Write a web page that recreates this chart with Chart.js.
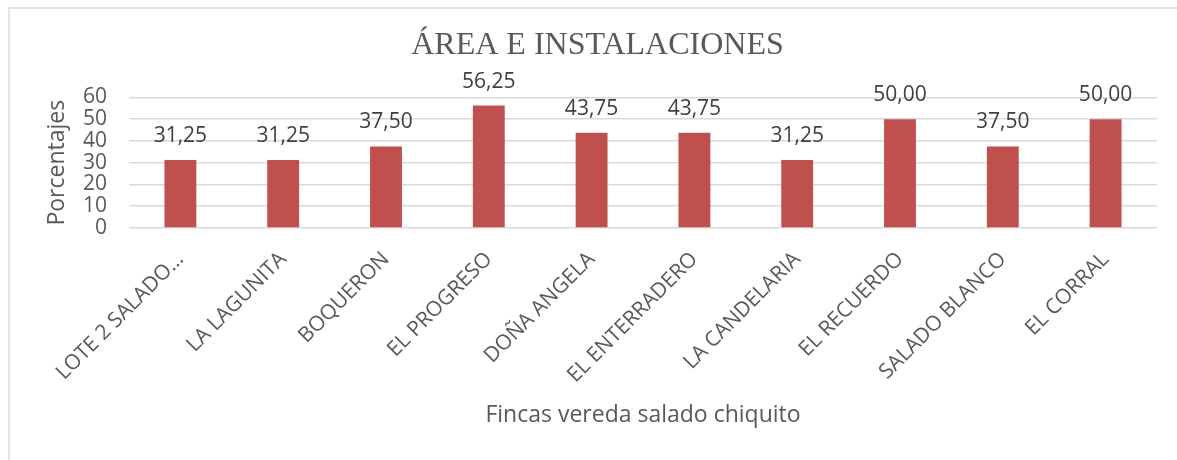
<!DOCTYPE html>
<html>
<head>
<meta charset="utf-8">
<script src="https://cdn.jsdelivr.net/npm/chart.js@4.4.0/dist/chart.umd.min.js"></script>
<style>
  html, body { margin: 0; padding: 0; background: #ffffff; }
  #frame { position: absolute; left: 8px; top: 7px; right: 0; bottom: 0;
           border-top: 2px solid #e3e3e3; border-left: 2px solid #e3e3e3; }
  #c { position: absolute; left: 0; top: 0; }
</style>
</head>
<body>
<div id="frame"></div>
<canvas id="c" width="1177" height="460"></canvas>
<script>
const chartTitle = 'ÁREA E INSTALACIONES';
const xAxisTitle = 'Fincas vereda salado chiquito';
const yAxisTitle = 'Porcentajes';
const categories = ['LOTE 2 SALADO…', 'LA LAGUNITA', 'BOQUERON', 'EL PROGRESO', 'DOÑA ANGELA',
                    'EL ENTERRADERO', 'LA CANDELARIA', 'EL RECUERDO', 'SALADO BLANCO', 'EL CORRAL'];
const values = [31.25, 31.25, 37.50, 56.25, 43.75, 43.75, 31.25, 50.00, 37.50, 50.00];
const yTicks = [0, 10, 20, 30, 40, 50, 60];

const textColor = '#595959';
const sansFont = "'Open Sans', sans-serif";

const dataLabels = {
  id: 'dataLabels',
  afterDatasetsDraw(chart) {
    const ctx = chart.ctx;
    ctx.save();
    ctx.font = "21px " + sansFont;
    ctx.fillStyle = '#404040';
    ctx.textAlign = 'center';
    ctx.textBaseline = 'alphabetic';
    chart.getDatasetMeta(0).data.forEach((bar, i) => {
      const v = chart.data.datasets[0].data[i];
      ctx.fillText(v.toFixed(2).replace('.', ','), bar.x, bar.y - 18);
    });
    ctx.restore();
  }
};

new Chart(document.getElementById('c'), {
  type: 'bar',
  data: {
    labels: categories,
    datasets: [{
      data: values,
      backgroundColor: '#C0504D',
      borderWidth: 0,
      categoryPercentage: 1,
      barPercentage: 0.31
    }]
  },
  options: {
    responsive: false,
    animation: false,
    layout: { padding: { left: 38, right: 20, top: 0, bottom: 0 } },
    plugins: {
      legend: { display: false },
      tooltip: { enabled: false },
      title: {
        display: true,
        text: chartTitle,
        color: textColor,
        font: { family: "'Liberation Serif', serif", size: 32, weight: 'normal' },
        padding: { top: 26, bottom: 33 }
      }
    },
    scales: {
      x: {
        grid: { display: false, drawTicks: false },
        border: { display: false },
        ticks: {
          color: textColor,
          font: { family: sansFont, size: 21 },
          minRotation: 45,
          maxRotation: 45,
          autoSkip: false,
          padding: 19
        },
        title: {
          display: true,
          text: xAxisTitle,
          color: textColor,
          font: { family: sansFont, size: 23 },
          padding: { top: 0, bottom: 31 }
        },
        afterFit(scale) { scale.height = 232; }
      },
      y: {
        min: 0,
        max: 60,
        afterBuildTicks(scale) { scale.ticks = yTicks.map(v => ({ value: v })); },
        grid: { color: '#d9d9d9', lineWidth: 1.5, drawTicks: false },
        border: { display: false },
        ticks: {
          color: textColor,
          font: { family: sansFont, size: 21 },
          autoSkip: false,
          padding: 22
        },
        title: {
          display: true,
          text: yAxisTitle,
          color: textColor,
          font: { family: sansFont, size: 23 },
          padding: { top: 6, bottom: 0 }
        },
        afterFit(scale) { scale.width = 91; }
      }
    }
  },
  plugins: [dataLabels]
});
</script>
</body>
</html>
